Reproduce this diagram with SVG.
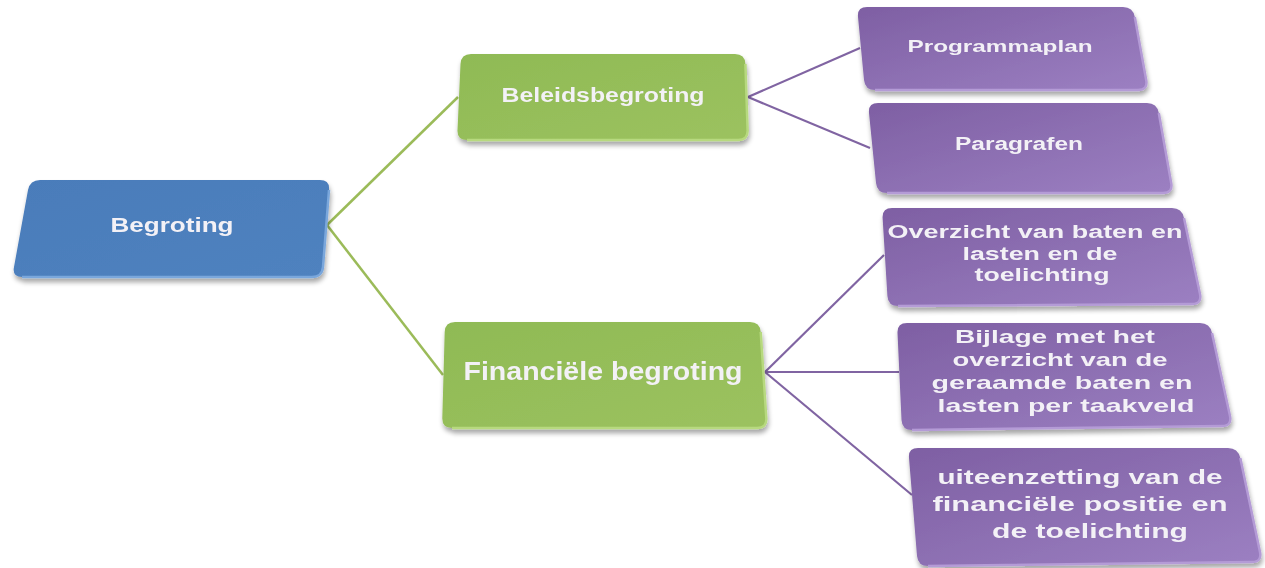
<svg xmlns="http://www.w3.org/2000/svg" width="1265" height="568" viewBox="0 0 1265 568">
<style>
.t{font-family:"Liberation Sans",Arial,sans-serif;font-weight:700;fill:#f3f1f6;text-anchor:middle;}
.cg{stroke:#9bbb59;stroke-width:2.5;fill:none;}
.cp{stroke:#8064a2;stroke-width:2.2;fill:none;}
.edge{fill:none;stroke-width:2.5;}
</style>
<defs>
<linearGradient id="gb" x1="0" y1="0" x2="1" y2="1"><stop offset="0" stop-color="#4a7cba"/><stop offset="1" stop-color="#4f82bf"/></linearGradient>
<linearGradient id="gg" x1="0" y1="0" x2="1" y2="1"><stop offset="0" stop-color="#8fba55"/><stop offset="1" stop-color="#9cc25f"/></linearGradient>
<linearGradient id="gp" x1="0" y1="0" x2="1" y2="1"><stop offset="0" stop-color="#7e5fa3"/><stop offset="1" stop-color="#9c80c2"/></linearGradient>
<filter id="sh" x="-10%" y="-10%" width="120%" height="130%"><feGaussianBlur in="SourceAlpha" stdDeviation="2.5"/><feOffset dx="1" dy="4"/><feComponentTransfer><feFuncA type="linear" slope="0.35"/></feComponentTransfer><feMerge><feMergeNode/><feMergeNode in="SourceGraphic"/></feMerge></filter>
</defs>
<rect width="1265" height="568" fill="#ffffff"/>
<g id="connectors">
<path class="cg" d="M327,225 L458,97"/>
<path class="cg" d="M327,225 L443,375"/>
<path class="cp" d="M748,97 L860,48"/>
<path class="cp" d="M748,97 L870,148"/>
<path class="cp" d="M765,372 L884,255"/>
<path class="cp" d="M765,372 L899,372"/>
<path class="cp" d="M765,372 L912,495"/>
</g>
<g id="n-begroting" filter="url(#sh)">
<path fill="url(#gb)" d="M40,180 H320 Q330,180 329,190 L323,267 Q322,277 312,277 H22 Q12,277 14,267 L28,190 Q30,180 40,180 Z"/>
<path class="edge" stroke="#7aa7dc" d="M329,190 L323,267 Q322,277 312,277 H22"/>
<text class="t" x="172" y="232" font-size="20" textLength="123" lengthAdjust="spacingAndGlyphs">Begroting</text>
</g>
<g id="n-beleids" filter="url(#sh)">
<path fill="url(#gg)" d="M471,54 H735 Q745,54 745.4,64 L747.6,130 Q748,140 738,140 H467 Q457,140 457.5,130 L460.5,64 Q461,54 471,54 Z"/>
<path class="edge" stroke="#b7d97f" d="M745.4,64 L747.6,130 Q748,140 738,140 H467"/>
<text class="t" x="603" y="102" font-size="20" textLength="203" lengthAdjust="spacingAndGlyphs">Beleidsbegroting</text>
</g>
<g id="n-financieel" filter="url(#sh)">
<path fill="url(#gg)" d="M455,322 H750 Q760,322 760.7,332 L766.3,418 Q767,428 757,428 H452 Q442,428 442.3,418 L444.7,332 Q445,322 455,322 Z"/>
<path class="edge" stroke="#b7d97f" d="M760.7,332 L766.3,418 Q767,428 757,428 H452"/>
<text class="t" x="603" y="380" font-size="26" textLength="279" lengthAdjust="spacingAndGlyphs">Financiële begroting</text>
</g>
<g id="n-programmaplan" filter="url(#sh)">
<path fill="url(#gp)" d="M867,7 H1123 Q1133,7 1134.8,17 L1146.2,80 Q1148,90 1138,90 H875 Q865,90 864,80 L858,17 Q857,7 867,7 Z"/>
<path class="edge" stroke="#b49bd6" d="M1134.8,17 L1146.2,80 Q1148,90 1138,90 H875"/>
<text class="t" x="1000" y="52" font-size="17" textLength="185" lengthAdjust="spacingAndGlyphs">Programmaplan</text>
</g>
<g id="n-paragrafen" filter="url(#sh)">
<path fill="url(#gp)" d="M878,103 H1147 Q1157,103 1158.8,113 L1171.2,183 Q1173,193 1163,193 H887 Q877,193 876,183 L869,113 Q868,103 878,103 Z"/>
<path class="edge" stroke="#b49bd6" d="M1158.8,113 L1171.2,183 Q1173,193 1163,193 H887"/>
<text class="t" x="1019" y="150" font-size="18" textLength="128" lengthAdjust="spacingAndGlyphs">Paragrafen</text>
</g>
<g id="n-overzicht" filter="url(#sh)">
<path fill="url(#gp)" d="M892,208 H1172 Q1182,208 1184,218 L1200,294 Q1202,304 1192,304 L898,306 Q888,306 887.4,296 L882.6,218 Q882,208 892,208 Z"/>
<path class="edge" stroke="#b49bd6" d="M1184,218 L1200,294 Q1202,304 1192,304 L898,306"/>
<g class="t" font-size="18">
<text x="1035" y="238" textLength="295" lengthAdjust="spacingAndGlyphs">Overzicht van baten en</text>
<text x="1040" y="259.5" textLength="155" lengthAdjust="spacingAndGlyphs">lasten en de</text>
<text x="1042" y="281" textLength="135" lengthAdjust="spacingAndGlyphs">toelichting</text>
</g>
</g>
<g id="n-bijlage" filter="url(#sh)">
<path fill="url(#gp)" d="M907,323 H1200 Q1210,323 1212,333 L1230,416 Q1232,426 1222,426 L912,430 Q902,430 901.5,420 L897.5,333 Q897,323 907,323 Z"/>
<path class="edge" stroke="#b49bd6" d="M1212,333 L1230,416 Q1232,426 1222,426 L912,430"/>
<g class="t" font-size="19">
<text x="1055" y="343" textLength="200" lengthAdjust="spacingAndGlyphs">Bijlage met het</text>
<text x="1060" y="366" textLength="215" lengthAdjust="spacingAndGlyphs">overzicht van de</text>
<text x="1062" y="389" textLength="261" lengthAdjust="spacingAndGlyphs">geraamde baten en</text>
<text x="1066" y="412" textLength="257" lengthAdjust="spacingAndGlyphs">lasten per taakveld</text>
</g>
</g>
<g id="n-uiteenzetting" filter="url(#sh)">
<path fill="url(#gp)" d="M918,448 H1228 Q1238,448 1240.3,458 L1260,552 Q1262,562 1252,562 L928,566 Q918,566 917,556 L909,458 Q908,448 918,448 Z"/>
<path class="edge" stroke="#b49bd6" d="M1240.3,458 L1260,552 Q1262,562 1252,562 L928,566"/>
<g class="t" font-size="21">
<text x="1080" y="484" textLength="285" lengthAdjust="spacingAndGlyphs">uiteenzetting van de</text>
<text x="1080" y="511" textLength="295" lengthAdjust="spacingAndGlyphs">financiële positie en</text>
<text x="1090" y="538" textLength="196" lengthAdjust="spacingAndGlyphs">de toelichting</text>
</g>
</g>
</svg>
